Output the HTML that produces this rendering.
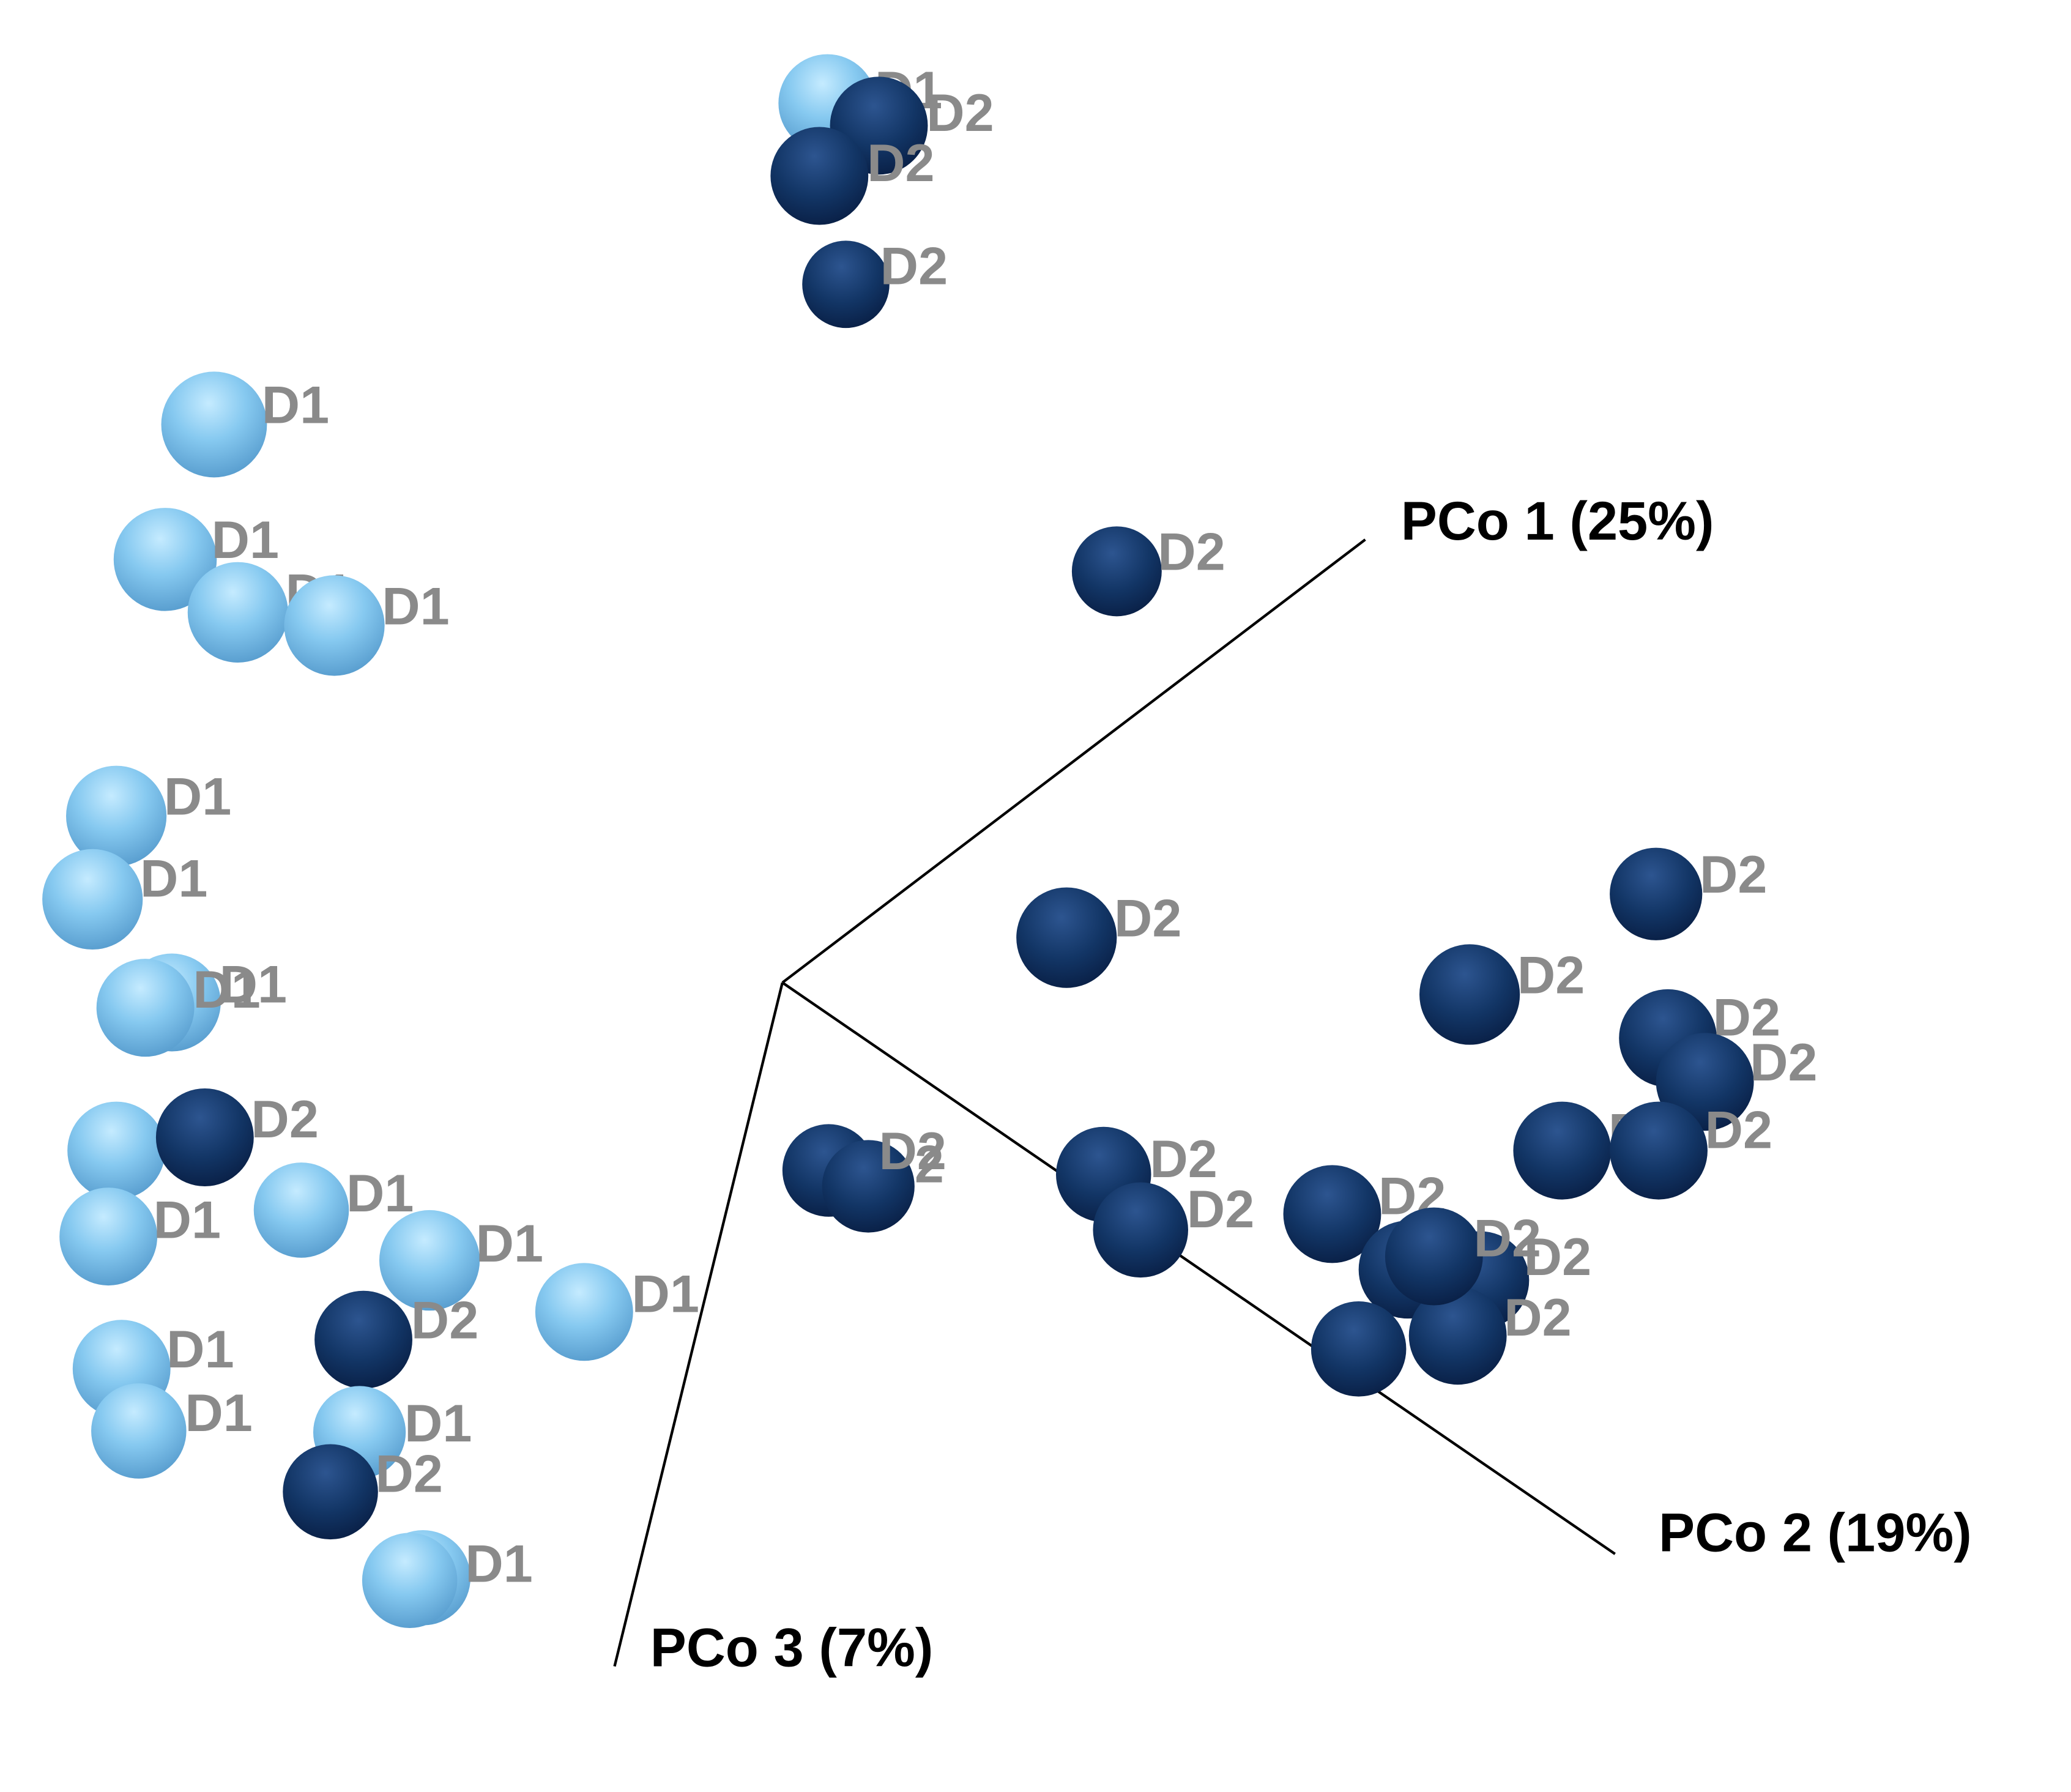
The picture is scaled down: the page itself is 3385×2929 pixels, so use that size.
<!DOCTYPE html>
<html><head><meta charset="utf-8"><style>
html,body{margin:0;padding:0;background:#fff;}
svg{display:block;}
.l{font-family:"Liberation Sans",sans-serif;font-size:40px;font-weight:bold;fill:#8a8a8a;}
.a{font-family:"Liberation Sans",sans-serif;font-size:41px;font-weight:bold;fill:#000;}
</style></head><body>
<svg width="3385" height="2929" viewBox="0 0 1567 1355" preserveAspectRatio="none" xmlns="http://www.w3.org/2000/svg">
<defs>
<radialGradient id="lb" cx="0.45" cy="0.3" r="0.7">
<stop offset="0" stop-color="#c5ebff"/><stop offset="0.5" stop-color="#86c9f0"/><stop offset="1" stop-color="#5a9fd0"/>
</radialGradient>
<radialGradient id="db" cx="0.45" cy="0.3" r="0.7">
<stop offset="0" stop-color="#2d5590"/><stop offset="0.6" stop-color="#123565"/><stop offset="1" stop-color="#0a2148"/>
</radialGradient>
</defs>
<g stroke="#000" stroke-width="2" fill="none">
<line x1="592" y1="743" x2="1033" y2="408"/>
<line x1="592" y1="743" x2="1222" y2="1175"/>
<line x1="592" y1="743" x2="465" y2="1260"/>
</g>
<text class="a" x="1060" y="408">PCo 1 (25%)</text>
<text class="a" x="1255" y="1173">PCo 2 (19%)</text>
<text class="a" x="492" y="1260">PCo 3 (7%)</text>

<circle cx="626" cy="78" r="37" fill="url(#lb)"/><text class="l" x="662" y="82">D1</text>
<circle cx="665" cy="95" r="37" fill="url(#db)"/><text class="l" x="701" y="99">D2</text>
<circle cx="620" cy="133" r="37" fill="url(#db)"/><text class="l" x="656" y="137">D2</text>
<circle cx="640" cy="215" r="33" fill="url(#db)"/><text class="l" x="666" y="215">D2</text>
<circle cx="162" cy="321" r="40" fill="url(#lb)"/><text class="l" x="198" y="320">D1</text>
<circle cx="125" cy="423" r="39" fill="url(#lb)"/><text class="l" x="160" y="422">D1</text>
<circle cx="180" cy="463" r="38" fill="url(#lb)"/><text class="l" x="216" y="462">D1</text>
<circle cx="253" cy="473" r="38" fill="url(#lb)"/><text class="l" x="289" y="472">D1</text>
<circle cx="88" cy="617" r="38" fill="url(#lb)"/><text class="l" x="124" y="616">D1</text>
<circle cx="70" cy="680" r="38" fill="url(#lb)"/><text class="l" x="106" y="678">D1</text>
<circle cx="130" cy="758" r="37" fill="url(#lb)"/><text class="l" x="166" y="758">D1</text>
<circle cx="110" cy="762" r="37" fill="url(#lb)"/><text class="l" x="146" y="762">D1</text>
<circle cx="88" cy="870" r="37" fill="url(#lb)"/>
<circle cx="155" cy="860" r="37" fill="url(#db)"/><text class="l" x="190" y="860">D2</text>
<circle cx="82" cy="935" r="37" fill="url(#lb)"/><text class="l" x="116" y="936">D1</text>
<circle cx="228" cy="915" r="36" fill="url(#lb)"/><text class="l" x="262" y="916">D1</text>
<circle cx="325" cy="953" r="38" fill="url(#lb)"/><text class="l" x="360" y="954">D1</text>
<circle cx="442" cy="992" r="37" fill="url(#lb)"/><text class="l" x="478" y="992">D1</text>
<circle cx="275" cy="1013" r="37" fill="url(#db)"/><text class="l" x="311" y="1012">D2</text>
<circle cx="92" cy="1035" r="37" fill="url(#lb)"/><text class="l" x="126" y="1034">D1</text>
<circle cx="105" cy="1082" r="36" fill="url(#lb)"/><text class="l" x="140" y="1082">D1</text>
<circle cx="272" cy="1083" r="35" fill="url(#lb)"/><text class="l" x="306" y="1090">D1</text>
<circle cx="250" cy="1128" r="36" fill="url(#db)"/><text class="l" x="284" y="1128">D2</text>
<circle cx="320" cy="1193" r="36" fill="url(#lb)"/><text class="l" x="352" y="1196">D1</text>
<circle cx="310" cy="1195" r="36" fill="url(#lb)"/>
<circle cx="845" cy="432" r="34" fill="url(#db)"/><text class="l" x="876" y="431">D2</text>
<circle cx="807" cy="709" r="38" fill="url(#db)"/><text class="l" x="843" y="708">D2</text>
<circle cx="1253" cy="676" r="35" fill="url(#db)"/><text class="l" x="1286" y="675">D2</text>
<circle cx="1112" cy="752" r="38" fill="url(#db)"/><text class="l" x="1148" y="751">D2</text>
<circle cx="1262" cy="785" r="37" fill="url(#db)"/><text class="l" x="1296" y="783">D2</text>
<circle cx="1290" cy="818" r="37" fill="url(#db)"/><text class="l" x="1324" y="817">D2</text>
<circle cx="1182" cy="870" r="37" fill="url(#db)"/><text class="l" x="1217" y="870">D2</text>
<circle cx="1255" cy="870" r="37" fill="url(#db)"/><text class="l" x="1290" y="868">D2</text>
<circle cx="627" cy="885" r="35" fill="url(#db)"/>
<circle cx="657" cy="897" r="35" fill="url(#db)"/><text class="l" x="665" y="884">D2</text><text class="l" x="692" y="894">2</text>
<circle cx="835" cy="888" r="36" fill="url(#db)"/><text class="l" x="870" y="890">D2</text>
<circle cx="863" cy="930" r="36" fill="url(#db)"/><text class="l" x="898" y="928">D2</text>
<circle cx="1008" cy="918" r="37" fill="url(#db)"/><text class="l" x="1043" y="918">D2</text>
<circle cx="1120" cy="968" r="37" fill="url(#db)"/><text class="l" x="1153" y="964">D2</text>
<circle cx="1065" cy="960" r="37" fill="url(#db)"/>
<circle cx="1028" cy="1020" r="36" fill="url(#db)"/>
<circle cx="1103" cy="1010" r="37" fill="url(#db)"/><text class="l" x="1138" y="1010">D2</text>
<circle cx="1085" cy="950" r="37" fill="url(#db)"/><text class="l" x="1115" y="950">D2</text>
</svg>
</body></html>
